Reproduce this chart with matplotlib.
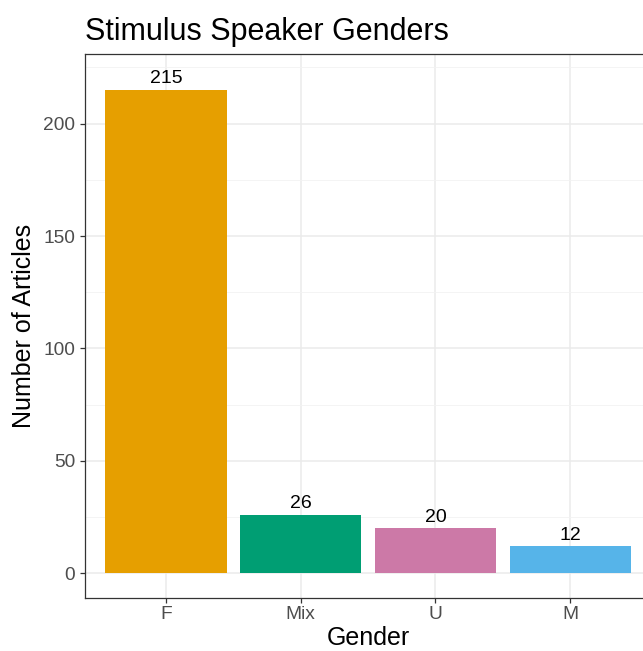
import numpy as np
import matplotlib.pyplot as plt
from matplotlib.ticker import MultipleLocator

plt.rcParams["font.family"] = ["Liberation Sans", "DejaVu Sans"]

# data
genders = ["F", "Mix", "U", "M"]
counts = [215, 26, 20, 12]
colors = ["#E69F00", "#009E73", "#CC79A7", "#56B4E9"]

W, H = 643, 651
fig = plt.figure(figsize=(W / 100, H / 100), dpi=100)

# panel runs past the right edge, as in the reference
left, right, top, bottom = 85, 651, 54, 598
ax = fig.add_axes([left / W, 1 - bottom / H, (right - left) / W, (bottom - top) / H])

x = np.arange(1, len(genders) + 1)
ax.bar(x, counts, width=0.9, color=colors, zorder=2)
for xi, c in zip(x, counts):
    ax.text(xi, c + 5, str(c), ha="center", va="center", fontsize=14, color="black", zorder=3)

ymax = max(counts) + 5
ax.set_xlim(0.4, len(genders) + 0.6)
ax.set_ylim(-0.05 * ymax, ymax * 1.05)

ax.set_xticks(x)
ax.set_xticklabels(genders)
ax.yaxis.set_major_locator(MultipleLocator(50))
ax.yaxis.set_minor_locator(MultipleLocator(25))
ax.set_xticks(x[:-1] + 0.5, minor=True)
ax.tick_params(axis="x", which="minor", length=0)

ax.grid(which="major", color="#EBEBEB", lw=1.1, zorder=0)
ax.grid(which="minor", color="#F2F2F2", lw=0.6, zorder=0)
ax.xaxis.grid(which="minor", visible=False)
ax.set_axisbelow(True)

for s in ax.spines.values():
    s.set_color("#333333")
    s.set_linewidth(0.9)
ax.tick_params(which="major", length=3.5, width=0.9, color="#333333",
               labelcolor="#4D4D4D", labelsize=13.8)
ax.tick_params(axis="x", pad=2.5)
ax.tick_params(axis="y", pad=3.5)
ax.tick_params(axis="y", which="minor", length=0)

ax.set_xlabel("Gender", fontsize=18, labelpad=2)
ax.set_ylabel("Number of Articles", fontsize=18, labelpad=5)
ax.set_title("Stimulus Speaker Genders", fontsize=22, loc="left", pad=10)

fig.savefig("out.png", dpi=100)
